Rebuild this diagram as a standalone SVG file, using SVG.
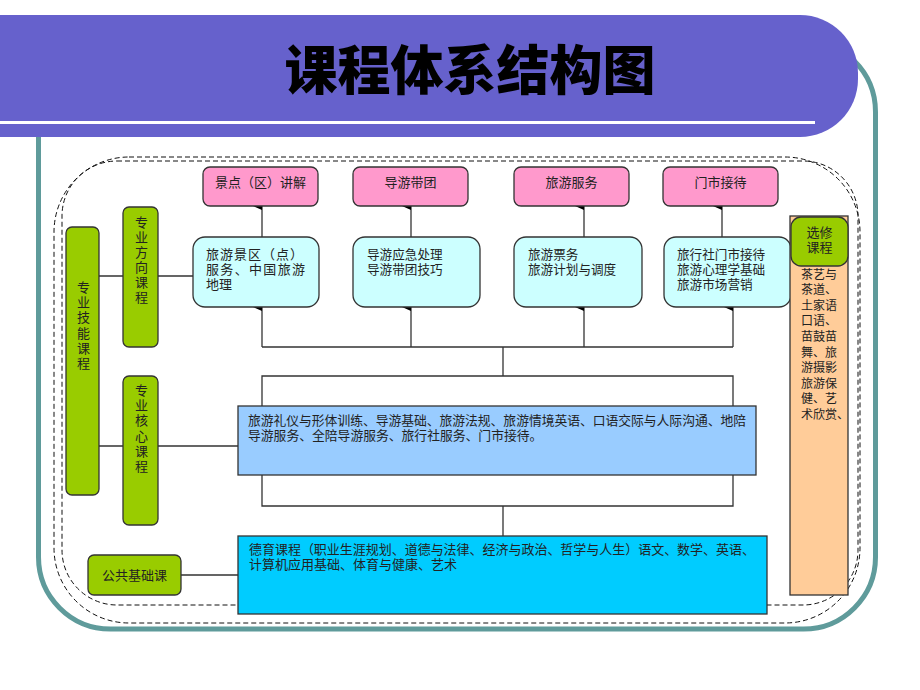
<svg xmlns="http://www.w3.org/2000/svg" width="920" height="690" viewBox="0 0 920 690">
<style>
text{font-family:"Liberation Sans","Noto Sans CJK SC",sans-serif;fill:#222;}
.t13{font-size:13px;}
.t12{font-size:12.6px;}
.vert{font-size:13px;writing-mode:vertical-rl;text-orientation:upright;}
.green{fill:#99CC00;stroke:#333;stroke-width:1.3;}
.pink{fill:#FF99CC;stroke:#333;stroke-width:1.3;}
.cyan{fill:#CCFFFF;stroke:#333;stroke-width:1.3;}
.line{stroke:#333;stroke-width:1.3;fill:none;}
.dash{stroke:#111;stroke-width:1;fill:none;stroke-dasharray:5 3;}
.mid{text-anchor:middle;}
</style>
<defs>
<marker id="ah" markerWidth="8" markerHeight="9" refX="4" refY="9" orient="auto-start-reverse" markerUnits="userSpaceOnUse" viewBox="0 0 8 9">
<path d="M0,9 L4,0 L8,9 Z" fill="#000"/>
</marker>
</defs>
<rect width="920" height="690" fill="#fff"/>
<!-- frame -->
<g id="frame">
<rect x="38.5" y="40" width="837" height="589" rx="72" fill="none" stroke="#5F9B9B" stroke-width="5"/>
<rect x="0" y="15" width="858" height="122" rx="58" fill="#6661CC"/>
<rect x="0" y="15" width="100" height="122" fill="#6661CC"/>
<rect x="0" y="121" width="815" height="3" fill="#fff"/>
<text x="470" y="90" class="mid" style="font-family:'Noto Sans CJK SC',sans-serif;font-size:53px;font-weight:900;fill:#000">课程体系结构图</text>
<rect x="54" y="157" width="806" height="466" rx="75" class="dash"/>
<rect x="62" y="161" width="796" height="444" rx="55" class="dash"/>
</g>
<!-- connectors -->
<g id="connectors">
<path class="line" d="M99,276 H123 M158,276 H193 M99,446 H123 M158,446 H238 M181,575 H238"/>
<path class="line" d="M262,347 H733 M503,347 V376 M262,376 H733 V506 H262 Z M503,506 V536"/>
<line class="line" x1="262" y1="237" x2="262" y2="206" marker-end="url(#ah)"/>
<line class="line" x1="411" y1="237" x2="411" y2="206" marker-end="url(#ah)"/>
<line class="line" x1="584" y1="237" x2="584" y2="206" marker-end="url(#ah)"/>
<line class="line" x1="722" y1="237" x2="722" y2="206" marker-end="url(#ah)"/>
<line class="line" x1="262" y1="347" x2="262" y2="307" marker-end="url(#ah)"/>
<line class="line" x1="411" y1="347" x2="411" y2="307" marker-end="url(#ah)"/>
<line class="line" x1="584" y1="347" x2="584" y2="307" marker-end="url(#ah)"/>
<line class="line" x1="733" y1="347" x2="733" y2="307" marker-end="url(#ah)"/>
</g>
<!-- left labels -->
<g id="skill">
<rect x="66" y="227" width="33" height="268" rx="6" class="green"/>
<text x="82.5" y="280.5" class="vert" style="letter-spacing:2.2px">专业技能课程</text>
</g>
<g id="direction">
<rect x="123" y="207" width="35" height="140" rx="6" class="green"/>
<text x="140.5" y="215.5" class="vert" style="letter-spacing:2px">专业方向课程</text>
</g>
<g id="core">
<rect x="123" y="376" width="35" height="149" rx="6" class="green"/>
<text x="140.5" y="383.5" class="vert" style="letter-spacing:2.2px">专业核心课程</text>
</g>
<g id="public">
<rect x="88" y="555" width="93" height="40" rx="6" class="green"/>
<text x="134.5" y="580" class="t13 mid">公共基础课</text>
</g>
<!-- pink targets -->
<g id="p1"><rect x="203" y="167" width="115" height="39" rx="7" class="pink"/><text x="260.5" y="187" class="t13 mid">景点（区）讲解</text></g>
<g id="p2"><rect x="353" y="167" width="115" height="39" rx="7" class="pink"/><text x="410.5" y="187" class="t13 mid">导游带团</text></g>
<g id="p3"><rect x="514" y="167" width="115" height="39" rx="7" class="pink"/><text x="571.5" y="187" class="t13 mid">旅游服务</text></g>
<g id="p4"><rect x="663" y="167" width="115" height="39" rx="7" class="pink"/><text x="720.5" y="187" class="t13 mid">门市接待</text></g>
<!-- cyan courses -->
<g id="c1"><rect x="193" y="237" width="126" height="70" rx="12" class="cyan"/>
<text class="t13"><tspan x="206" y="259" textLength="97" lengthAdjust="spacing">旅游景区（点）</tspan><tspan x="206" y="274" textLength="99" lengthAdjust="spacing">服务、中国旅游</tspan><tspan x="206" y="289">地理</tspan></text></g>
<g id="c2"><rect x="353" y="237" width="127" height="70" rx="12" class="cyan"/>
<text class="t12"><tspan x="367" y="259">导游应急处理</tspan><tspan x="367" y="274">导游带团技巧</tspan></text></g>
<g id="c3"><rect x="514" y="237" width="128" height="70" rx="12" class="cyan"/>
<text class="t12"><tspan x="528" y="259">旅游票务</tspan><tspan x="528" y="274">旅游计划与调度</tspan></text></g>
<g id="c4"><rect x="664" y="237" width="127" height="70" rx="12" class="cyan"/>
<text class="t12"><tspan x="677" y="259">旅行社门市接待</tspan><tspan x="677" y="274">旅游心理学基础</tspan><tspan x="677" y="289">旅游市场营销</tspan></text></g>
<!-- core content -->
<g id="coreBox"><rect x="238" y="406" width="518" height="69" fill="#99CCFF" stroke="#333" stroke-width="1.3"/>
<text style="font-size:12.8px"><tspan x="248" y="425" textLength="498" lengthAdjust="spacing">旅游礼仪与形体训练、导游基础、旅游法规、旅游情境英语、口语交际与人际沟通、地陪</tspan><tspan x="248" y="440">导游服务、全陪导游服务、旅行社服务、门市接待。</tspan></text></g>
<!-- public content -->
<g id="publicBox"><rect x="238" y="536" width="529" height="78" fill="#00CCFF" stroke="#333" stroke-width="1.3"/>
<text class="t13"><tspan x="249" y="554" textLength="506" lengthAdjust="spacing">德育课程（职业生涯规划、道德与法律、经济与政治、哲学与人生）语文、数学、英语、</tspan><tspan x="249" y="569">计算机应用基础、体育与健康、艺术</tspan></text></g>
<!-- electives -->
<g id="elective"><rect x="790" y="216" width="58" height="379" fill="#FFCC99" stroke="#333" stroke-width="1.3"/>
<rect x="791" y="217" width="57" height="49" rx="10" class="green"/>
<text class="t13 mid"><tspan x="819.5" y="237">选修</tspan><tspan x="819.5" y="252">课程</tspan></text>
<text style="font-size:12px"><tspan x="801" y="278.6">茶艺与</tspan><tspan x="801" dy="15.6">茶道、</tspan><tspan x="801" dy="15.6">土家语</tspan><tspan x="801" dy="15.6">口语、</tspan><tspan x="801" dy="15.6">苗鼓苗</tspan><tspan x="801" dy="15.6">舞、旅</tspan><tspan x="801" dy="15.6">游摄影</tspan><tspan x="801" dy="15.6">旅游保</tspan><tspan x="801" dy="15.6">健、艺</tspan><tspan x="801" dy="15.6">术欣赏、</tspan></text></g>
</svg>
